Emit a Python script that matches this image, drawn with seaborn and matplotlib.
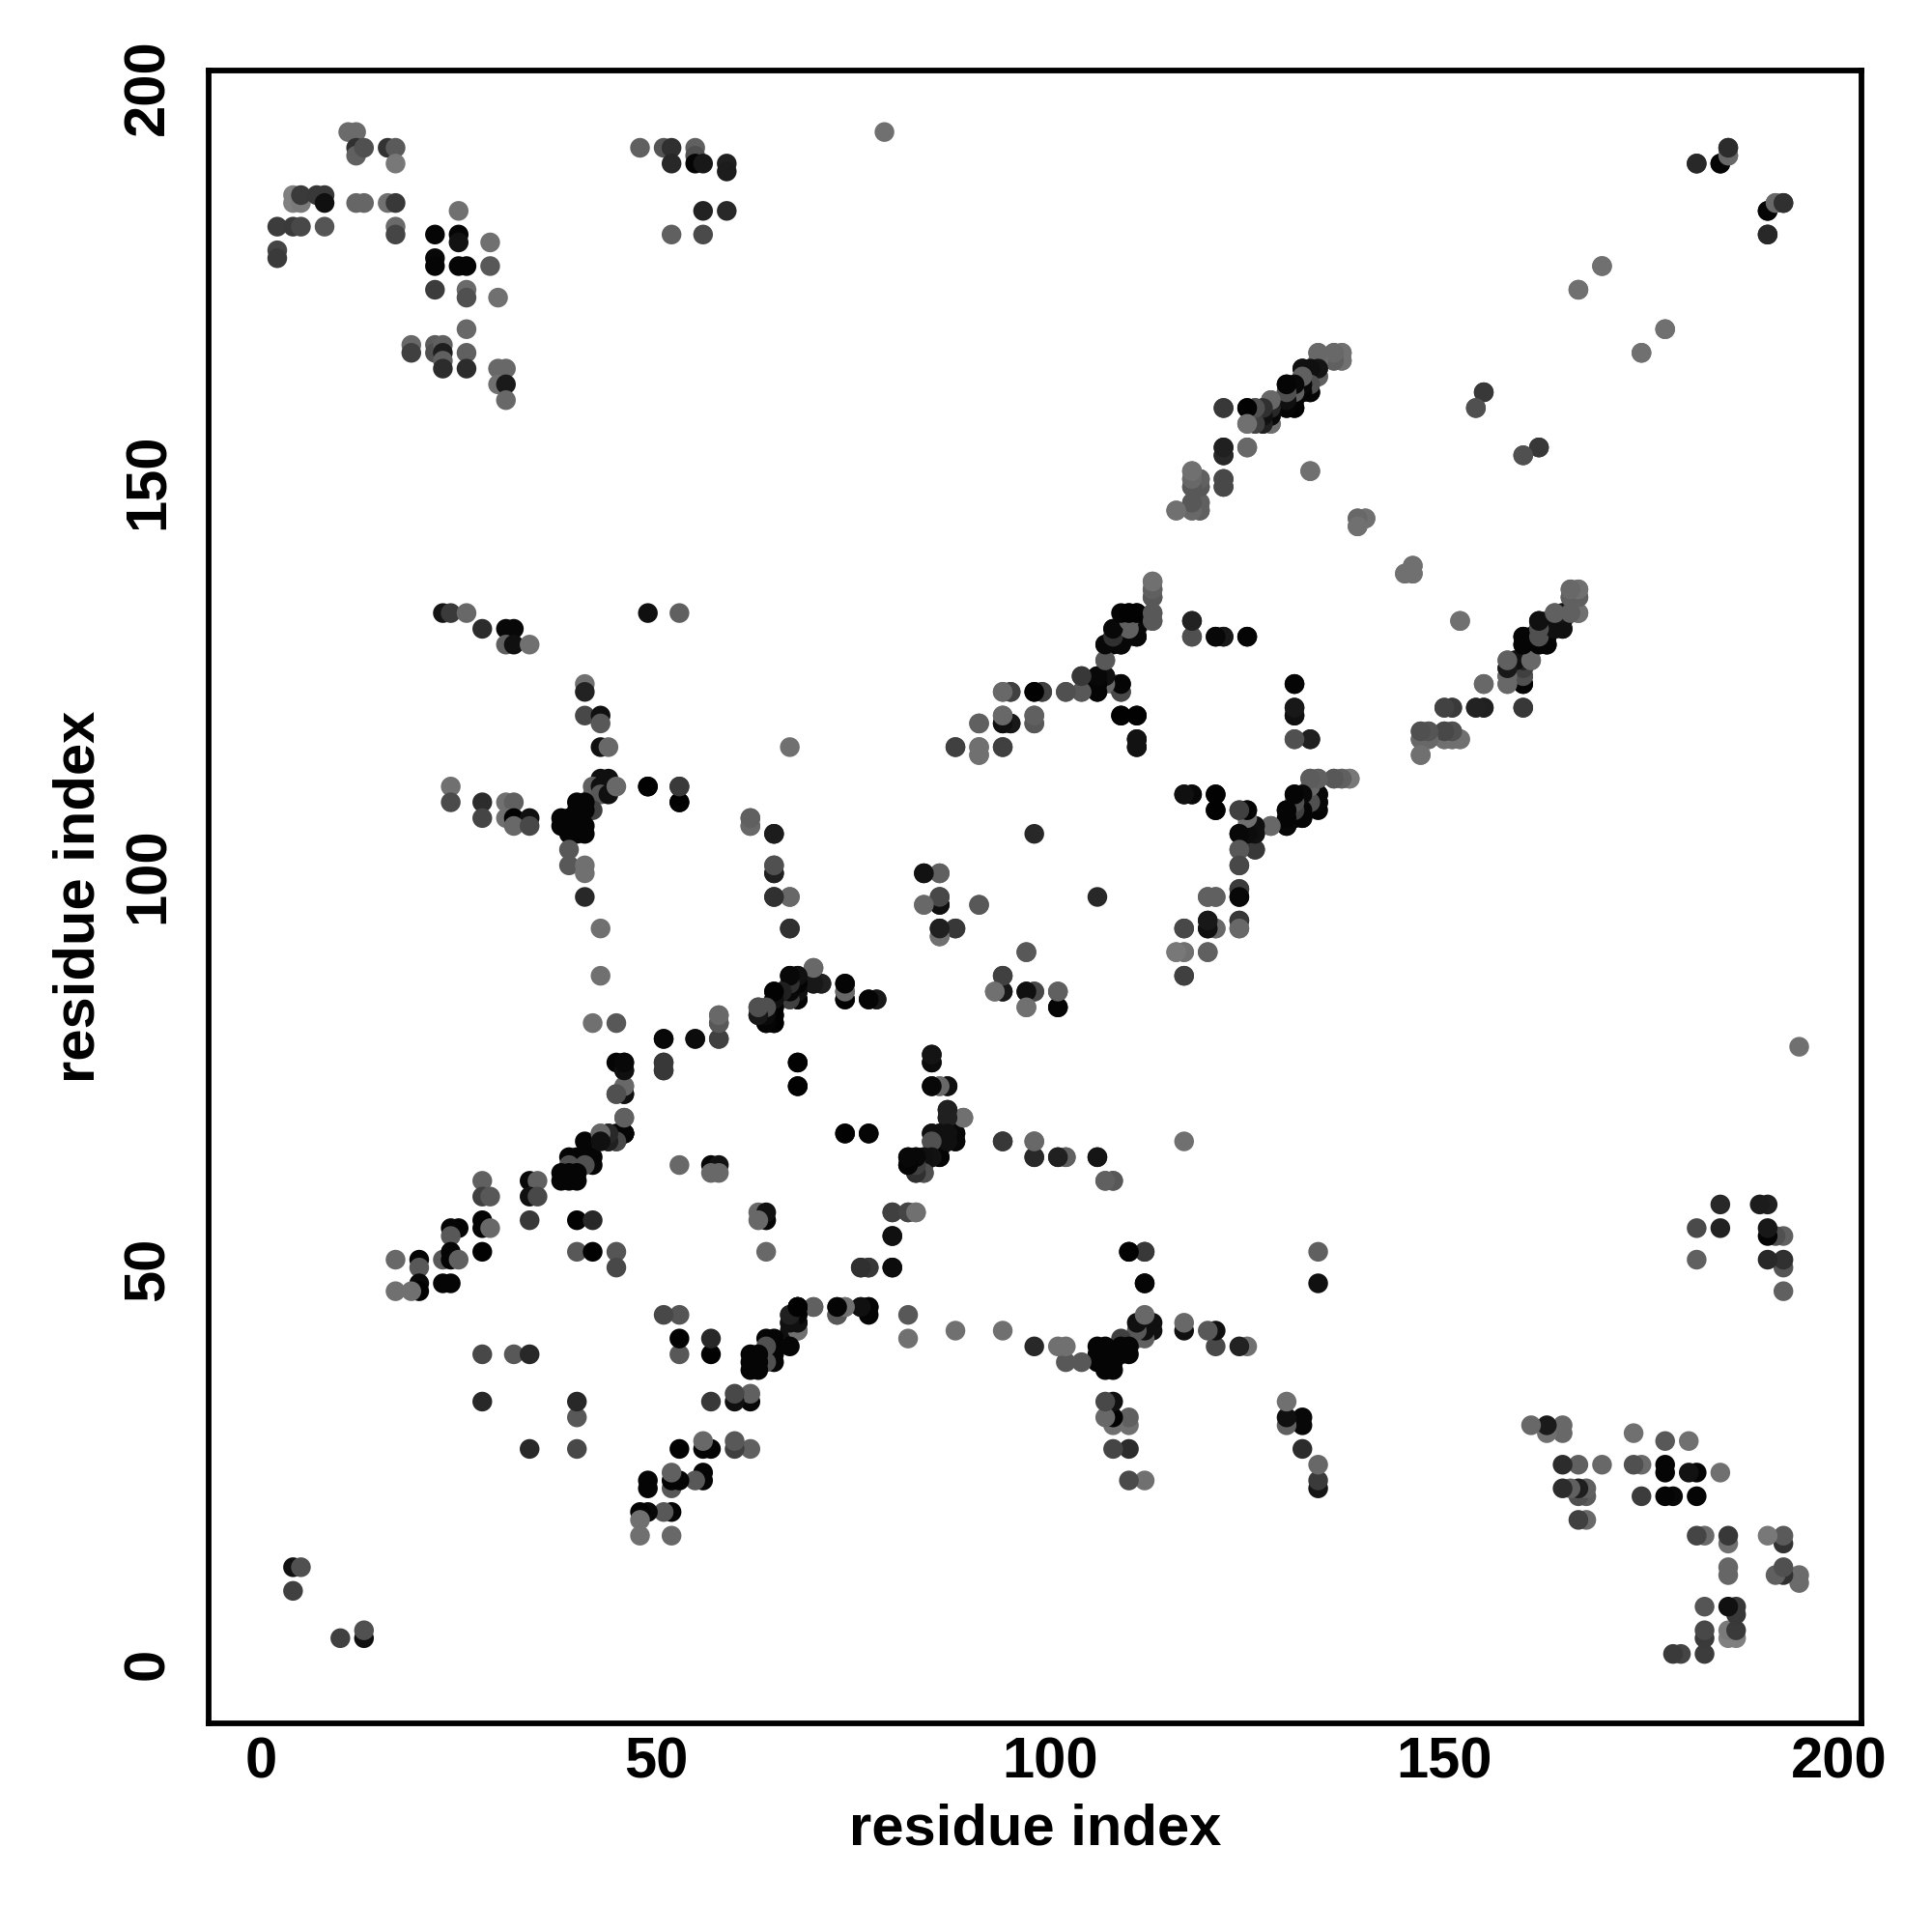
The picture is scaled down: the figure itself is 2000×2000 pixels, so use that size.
import matplotlib
matplotlib.use("Agg")
import matplotlib.pyplot as plt
from matplotlib.transforms import ScaledTranslation
import seaborn as sns
import pandas as pd

# contact map. only one triangle is listed, the map is symmetric
res_i = [
    11, 12, 12, 12, 13, 16, 17, 17,
    4, 4, 5, 5, 7, 8, 8, 12, 13, 16, 17, 25,
    2, 4, 5, 8, 17, 17, 22, 25, 25, 29, 2, 2,
    22, 22, 25, 26, 29, 22, 26, 26, 30, 26,
    19, 19, 22, 22, 23, 23, 23, 23, 26, 26, 30, 31, 30, 31, 31,
    48, 51, 52, 52, 55, 55, 55, 56, 59, 59, 56, 59, 52, 56, 79,
    182, 185, 186, 186, 191, 192, 193, 191, 170, 167, 178, 175,
    155, 154, 162, 160, 122, 125, 126, 127, 128, 128, 128, 125, 126, 127, 128,
    130, 130, 130, 131, 131, 132, 132, 132, 133, 134, 134, 134, 134,
    136, 136, 137, 137, 122, 122, 125, 133,
    118, 118, 118, 119, 119, 122, 122, 118, 118, 119, 119, 116,
    139, 140, 139, 146, 146, 145,
    23, 24, 26, 28, 31, 32, 31, 32, 34, 49, 53,
    41, 41, 41, 43, 43, 43, 44,
    43, 44, 42, 42, 43, 43, 42, 44, 45,
    40, 41, 40, 41, 38, 38, 39, 39, 39, 40, 40, 41, 41,
    39, 39, 41, 41, 41, 43, 49, 53, 53,
    24, 24, 28, 28, 31, 32, 31, 32, 34, 32, 34, 62, 62,
    65, 65, 65, 65, 67, 67,
    113, 113, 113, 110, 111, 110, 112, 113, 113,
    108, 109, 111, 108, 109, 110, 111, 107, 108, 109,
    107, 104, 106, 107, 106, 108, 109, 106, 104, 109,
    102, 99, 98, 95, 94, 109, 111, 111, 111,
    98, 98, 94, 94, 95, 91, 88, 91, 91, 94,
    118, 118, 121, 122, 125, 131, 131, 131, 131, 133,
    117, 118, 121, 121, 124, 125, 125, 126, 124, 125, 126, 124, 126, 124, 124, 124,
    128, 130, 130, 131, 131, 132, 132, 133, 134, 134, 134,
    133, 134, 136, 137, 138,
    84, 86, 86, 86, 84, 91, 86, 88, 86, 98,
    120, 121, 117, 120, 120, 121, 124, 124,
    116, 117, 120, 117, 97, 94, 93, 94, 97, 98, 101, 97, 101,
    152, 166, 167, 166, 167, 166, 167, 164, 165, 165, 165,
    162, 163, 162, 163, 164, 160, 161, 162, 163, 160, 161, 162, 163,
    158, 159, 160, 161, 158, 159, 160, 158, 160, 160, 158, 160, 155,
    150, 151, 154, 155, 147, 148, 150, 151, 147, 148, 150, 151, 152, 147,
    43, 42, 45, 51, 55, 58, 58, 58, 51, 51,
    45, 46, 46, 45, 46, 46, 46,
    43, 44, 45, 46, 44, 45, 41,
    39, 40, 41, 42, 42, 41, 39, 38, 39, 40, 38, 39, 40,
    34, 35, 34, 35, 28, 28, 29, 28, 28, 29, 24, 25, 24,
    34, 40, 42, 28, 40, 42, 45, 45,
    17, 20, 20, 23, 24, 24, 25, 23, 24, 20, 20, 19, 17,
    53, 57, 58, 57,
    67, 68, 70, 70, 71, 74, 74, 74,
    65, 67, 68, 68, 68, 67, 65, 65, 63, 63, 64, 65, 64, 65,
    77, 78, 85, 85, 85, 86, 87, 87, 87, 89, 74, 77,
    85, 86, 87, 88, 85, 86, 87, 88, 86,
    82, 83, 84, 85, 86, 82, 83, 84, 83, 84,
    94, 98, 98, 101, 102, 106, 107, 108, 117,
    80, 82, 83, 80, 76, 77, 80,
    4, 5, 4, 28, 32, 34, 28,
    68, 74, 73, 74, 76, 77, 73,
    68, 67, 67, 68, 68, 67, 70,
    110, 112, 112, 46, 46, 63,
]
res_j = [
    195, 195, 193, 192, 193, 193, 193, 191,
    187, 186, 186, 187, 187, 187, 186, 186, 186, 186, 186, 185,
    183, 183, 183, 183, 183, 182, 182, 182, 181, 181, 180, 179,
    179, 178, 178, 178, 178, 175, 175, 174, 174, 170,
    168, 167, 168, 167, 168, 167, 166, 165, 167, 165, 165, 165, 163, 163, 161,
    193, 193, 193, 191, 193, 192, 191, 191, 191, 190, 185, 185, 182, 182, 195,
    191, 191, 192, 193, 185, 186, 186, 182, 178, 175, 170, 167,
    162, 160, 155, 154, 160, 160, 160, 160, 160, 159, 161, 158, 158, 158, 158,
    163, 162, 160, 160, 162, 165, 164, 162, 162, 165, 164, 167, 166,
    167, 166, 167, 166, 155, 154, 155, 152,
    152, 151, 150, 151, 150, 151, 150, 148, 147, 148, 147, 147,
    146, 146, 145, 140, 139, 139,
    134, 134, 134, 132, 132, 132, 130, 130, 130, 134, 134,
    125, 124, 121, 121, 120, 117, 117,
    113, 113, 112, 111, 112, 111, 109, 111, 112,
    110, 110, 109, 109, 108, 107, 108, 107, 106, 107, 106, 107, 106,
    104, 102, 102, 101, 98, 94, 112, 112, 110,
    112, 110, 110, 108, 110, 110, 108, 108, 108, 107, 107, 108, 107,
    106, 102, 101, 98, 98, 94,
    138, 137, 136, 134, 134, 133, 133, 134, 133,
    132, 132, 132, 131, 131, 131, 131, 130, 130, 130,
    128, 126, 126, 126, 125, 125, 125, 124, 124, 124,
    124, 124, 124, 124, 124, 121, 121, 118, 117,
    121, 120, 121, 120, 120, 120, 117, 117, 116, 117,
    133, 131, 131, 131, 131, 125, 122, 121, 118, 118,
    111, 111, 111, 109, 109, 109, 107, 107, 106, 106, 106, 104, 104, 102, 99, 98,
    107, 107, 109, 111, 108, 110, 108, 110, 109, 110, 111,
    113, 113, 113, 113, 113,
    101, 101, 98, 97, 97, 97, 94, 94, 93, 106,
    98, 98, 94, 95, 94, 94, 95, 94,
    91, 91, 91, 88, 91, 88, 86, 86, 86, 86, 86, 84, 84,
    133, 137, 137, 136, 136, 134, 134, 134, 134, 133, 132,
    133, 133, 132, 132, 132, 131, 131, 131, 131, 130, 130, 130, 130,
    128, 128, 128, 128, 127, 127, 127, 126, 126, 125, 125, 122, 125,
    122, 122, 122, 122, 119, 119, 119, 119, 118, 118, 118, 118, 118, 116,
    88, 82, 82, 80, 80, 80, 82, 83, 77, 76,
    77, 77, 76, 73, 74, 73, 70,
    68, 68, 68, 68, 67, 67, 67,
    65, 65, 65, 65, 64, 64, 64, 63, 63, 63, 62, 62, 62,
    62, 62, 60, 60, 62, 60, 60, 57, 56, 56, 56, 56, 55,
    57, 57, 57, 53, 53, 53, 53, 51,
    52, 52, 51, 52, 53, 52, 52, 49, 49, 49, 48, 48, 48,
    64, 64, 64, 63,
    88, 88, 89, 87, 87, 87, 86, 85,
    86, 87, 87, 86, 85, 85, 85, 84, 84, 83, 83, 83, 82, 82,
    85, 85, 78, 77, 74, 74, 74, 71, 70, 70, 68, 68,
    68, 68, 68, 68, 67, 67, 67, 67, 66,
    65, 65, 65, 65, 65, 64, 64, 64, 63, 63,
    67, 67, 65, 65, 65, 65, 62, 62, 67,
    58, 58, 58, 55, 51, 51, 51,
    13, 13, 10, 40, 40, 40, 34,
    77, 68, 46, 46, 46, 46, 45,
    46, 45, 44, 44, 43, 43, 46,
    53, 53, 49, 68, 68, 58,
]
shade = [
    0x6b, 0x6b, 0x30, 0x60, 0x50, 0x33, 0x5a, 0x78,
    0x80, 0x80, 0x7a, 0x3a, 0x38, 0x38, 0x10, 0x66, 0x66, 0x70, 0x38, 0x70,
    0x3c, 0x3a, 0x48, 0x55, 0x6a, 0x45, 0x05, 0x05, 0x12, 0x70, 0x45, 0x3a,
    0x08, 0x05, 0x05, 0x05, 0x58, 0x3c, 0x6a, 0x50, 0x70, 0x68,
    0x68, 0x40, 0x5c, 0x50, 0x60, 0x1e, 0x60, 0x2c, 0x60, 0x2c, 0x68, 0x68, 0x70, 0x1a, 0x68,
    0x60, 0x55, 0x30, 0x28, 0x60, 0x50, 0x05, 0x18, 0x20, 0x1c, 0x22, 0x28, 0x60, 0x4a, 0x70,
    0x28, 0x05, 0x68, 0x30, 0x05, 0x68, 0x2c, 0x28, 0x70, 0x70, 0x70, 0x70,
    0x38, 0x50, 0x38, 0x50, 0x38, 0x05, 0x50, 0x40, 0x20, 0x10, 0x68, 0x68, 0x68, 0x18, 0x60,
    0x05, 0x05, 0x05, 0x05, 0x50, 0x10, 0x10, 0x50, 0x10, 0x15, 0x60, 0x70, 0x60,
    0x60, 0x60, 0x70, 0x68, 0x20, 0x22, 0x68, 0x70,
    0x70, 0x70, 0x70, 0x50, 0x48, 0x3a, 0x42, 0x68, 0x68, 0x55, 0x50, 0x70,
    0x70, 0x70, 0x70, 0x70, 0x68, 0x70,
    0x15, 0x3a, 0x68, 0x2c, 0x08, 0x08, 0x60, 0x10, 0x70, 0x10, 0x60,
    0x70, 0x22, 0x48, 0x10, 0x58, 0x10, 0x68,
    0x10, 0x10, 0x60, 0x60, 0x10, 0x58, 0x40, 0x10, 0x68,
    0x05, 0x05, 0x05, 0x05, 0x05, 0x05, 0x05, 0x05, 0x05, 0x05, 0x05, 0x05, 0x05,
    0x58, 0x58, 0x70, 0x70, 0x28, 0x70, 0x05, 0x38, 0x02,
    0x70, 0x4a, 0x2c, 0x45, 0x70, 0x60, 0x70, 0x02, 0x10, 0x68, 0x48, 0x58, 0x60,
    0x15, 0x60, 0x20, 0x28, 0x68, 0x38,
    0x78, 0x60, 0x58, 0x08, 0x08, 0x50, 0x68, 0x60, 0x5c,
    0x05, 0x05, 0x08, 0x05, 0x40, 0x50, 0x05, 0x08, 0x05, 0x05,
    0x68, 0x38, 0x10, 0x10, 0x0c, 0x70, 0x05, 0x08, 0x58, 0x40,
    0x48, 0x3c, 0x08, 0x38, 0x68, 0x02, 0x02, 0x08, 0x10,
    0x60, 0x60, 0x68, 0x10, 0x18, 0x60, 0x40, 0x70, 0x78, 0x48,
    0x20, 0x50, 0x10, 0x18, 0x05, 0x05, 0x18, 0x08, 0x50, 0x22,
    0x12, 0x12, 0x02, 0x02, 0x48, 0x05, 0x68, 0x10, 0x05, 0x05, 0x08, 0x58, 0x38, 0x50, 0x40, 0x02,
    0x58, 0x08, 0x08, 0x08, 0x30, 0x60, 0x08, 0x60, 0x05, 0x02, 0x02,
    0x58, 0x58, 0x58, 0x60, 0x70,
    0x05, 0x60, 0x48, 0x10, 0x70, 0x58, 0x18, 0x40, 0x70, 0x28,
    0x58, 0x60, 0x40, 0x18, 0x10, 0x68, 0x40, 0x68,
    0x70, 0x70, 0x60, 0x40, 0x58, 0x38, 0x70, 0x20, 0x10, 0x48, 0x60, 0x68, 0x12,
    0x70, 0x70, 0x70, 0x60, 0x68, 0x70, 0x68, 0x60, 0x15, 0x10, 0x10,
    0x05, 0x50, 0x05, 0x08, 0x60, 0x02, 0x05, 0x60, 0x08, 0x05, 0x10, 0x50, 0x05,
    0x70, 0x08, 0x28, 0x68, 0x20, 0x10, 0x30, 0x40, 0x50, 0x02, 0x70, 0x38, 0x68,
    0x48, 0x48, 0x28, 0x20, 0x60, 0x60, 0x58, 0x60, 0x68, 0x58, 0x58, 0x68, 0x70, 0x70,
    0x70, 0x70, 0x58, 0x0c, 0x10, 0x40, 0x45, 0x70, 0x38, 0x30,
    0x05, 0x05, 0x10, 0x58, 0x70, 0x05, 0x60,
    0x70, 0x10, 0x05, 0x05, 0x10, 0x20, 0x05,
    0x05, 0x05, 0x05, 0x05, 0x05, 0x50, 0x50, 0x05, 0x05, 0x05, 0x05, 0x05, 0x05,
    0x08, 0x60, 0x10, 0x48, 0x60, 0x40, 0x58, 0x05, 0x05, 0x68, 0x05, 0x05, 0x58,
    0x38, 0x02, 0x28, 0x02, 0x58, 0x02, 0x55, 0x48,
    0x68, 0x05, 0x58, 0x58, 0x05, 0x05, 0x60, 0x05, 0x05, 0x08, 0x02, 0x70, 0x70,
    0x68, 0x05, 0x12, 0x68,
    0x08, 0x08, 0x70, 0x20, 0x20, 0x10, 0x68, 0x08,
    0x05, 0x10, 0x10, 0x10, 0x10, 0x50, 0x12, 0x10, 0x50, 0x30, 0x40, 0x08, 0x05, 0x08,
    0x0c, 0x14, 0x18, 0x05, 0x02, 0x68, 0x05, 0x20, 0x18, 0x68, 0x02, 0x02,
    0x05, 0x10, 0x05, 0x10, 0x40, 0x08, 0x30, 0x08, 0x20,
    0x02, 0x02, 0x02, 0x10, 0x02, 0x05, 0x0a, 0x50, 0x18, 0x50,
    0x30, 0x68, 0x30, 0x20, 0x50, 0x1c, 0x68, 0x60, 0x70,
    0x40, 0x58, 0x68, 0x0c, 0x38, 0x38, 0x08,
    0x10, 0x50, 0x40, 0x48, 0x58, 0x28, 0x28,
    0x05, 0x02, 0x10, 0x68, 0x10, 0x08, 0x50,
    0x05, 0x48, 0x20, 0x28, 0x68, 0x10, 0x60,
    0x02, 0x3a, 0x02, 0x02, 0x02, 0x68,
]
tick_values = [0, 50, 100, 150, 200]

df = pd.DataFrame({
    "x": res_i + res_j,
    "y": res_j + res_i,
    "shade": shade + shade,
})

sns.set_theme(style="white")
plt.rcParams["font.family"] = ["Liberation Sans", "DejaVu Sans"]
plt.rcParams["font.weight"] = "bold"

fig = plt.figure(figsize=(10, 10), dpi=200)
ax = fig.add_axes([216 / 2000, 1 - 1784 / 2000, (1927 - 216) / 2000, (1784 - 73) / 2000])

sns.scatterplot(data=df, x="x", y="y", hue="shade", palette="gray", hue_norm=(0, 255),
                s=54, linewidth=0, legend=False, ax=ax)

ax.set_xlim(-6.7, 202.9)
ax.set_ylim(-6.8, 202.8)
ax.set_xticks(tick_values)
ax.set_yticks(tick_values)
ax.tick_params(axis="both", length=3, width=1.1, color="black", labelsize=21.5, labelcolor="black")
ax.tick_params(axis="x", pad=2)
ax.tick_params(axis="y", pad=9.5)

# rotated labels sit a bit low otherwise
nudge = ScaledTranslation(0, 2.2 / 72, fig.dpi_scale_trans)
for lab in ax.get_yticklabels():
    lab.set_rotation(90)
    lab.set_va("center")
    lab.set_transform(lab.get_transform() + nudge)

for side in ax.spines.values():
    side.set_linewidth(2.1)
    side.set_color("black")

ax.set_xlabel("residue index", fontsize=21.5, fontweight="bold", color="black", labelpad=5)
ax.set_ylabel("residue index", fontsize=21.5, fontweight="bold", color="black", labelpad=6)

plt.savefig("out.png", facecolor="white")
